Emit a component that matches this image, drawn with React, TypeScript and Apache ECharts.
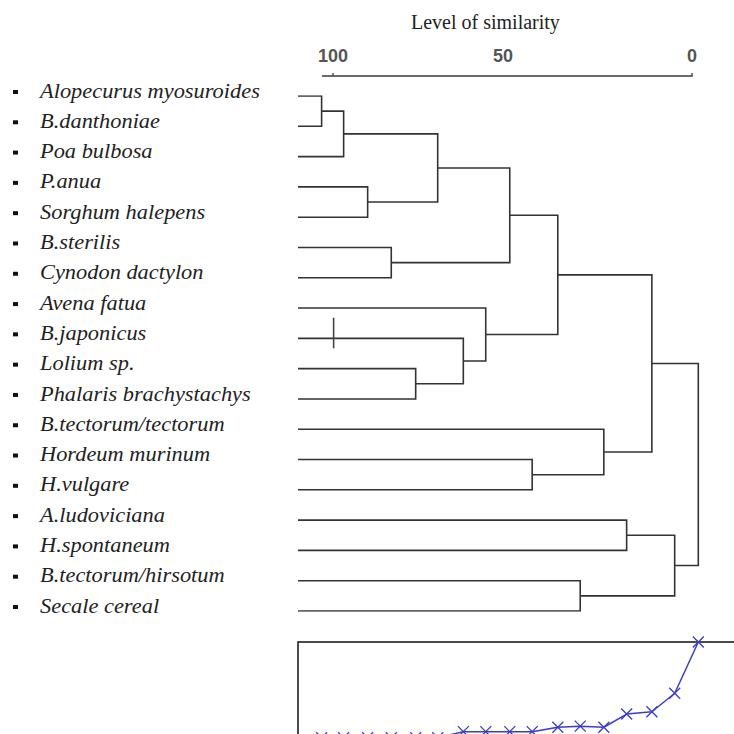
import React, { useEffect, useRef } from "react";
import * as echarts from "echarts";

// Leaves (top to bottom)
const SPECIES = [
  "Alopecurus myosuroides",
  "B.danthoniae",
  "Poa bulbosa",
  "P.anua",
  "Sorghum halepens",
  "B.sterilis",
  "Cynodon dactylon",
  "Avena fatua",
  "B.japonicus",
  "Lolium sp.",
  "Phalaris brachystachys",
  "B.tectorum/tectorum",
  "Hordeum murinum",
  "H.vulgare",
  "A.ludoviciana",
  "H.spontaneum",
  "B.tectorum/hirsotum",
  "Secale cereal",
];

// Agglomeration steps: node ids 0..17 are leaves, step k creates node 18+k
const MERGE_A = [0, 18, 3, 5, 9, 19, 8, 7, 23, 12, 26, 16, 11, 14, 28, 31, 32];
const MERGE_B = [1, 2, 4, 6, 10, 20, 22, 24, 21, 13, 25, 17, 27, 15, 30, 29, 33];
// Linkage level of each step (0 = leaves, 100 = root)
const MERGE_LEVEL = [5.9, 11.4, 17.4, 23.3, 29.4, 34.9, 41.3, 46.9, 52.9, 58.5, 64.9, 70.5, 76.4, 82.1, 88.4, 94.1, 100];
// Fusion coefficient plotted below the tree, one per step
const FUSION_VALUE = [13, 13, 13, 13, 13, 13, 18.5, 18.5, 18.5, 18.5, 22.5, 23.5, 22.5, 34.5, 36.6, 53.4, 100];
// Similarity axis labels and ticks
const SIM_LABELS = [0, 50, 100];
const SIM_TICKS = [0, 100];
// Small vertical mark crossing the B.japonicus branch
const MARK_LEAF = 8;
const MARK_LEVEL = 8.9;
const MARK_SPAN = [-0.68, 0.33];

function buildTree() {
  const nodeX: number[] = SPECIES.map(() => 0);
  const nodeY: number[] = SPECIES.map((_, i) => i);
  const segs: any[] = [];
  MERGE_A.forEach((a, k) => {
    const b = MERGE_B[k];
    const h = MERGE_LEVEL[k];
    segs.push({
      coords: [
        [nodeX[a], nodeY[a]],
        [h, nodeY[a]],
        [h, nodeY[b]],
        [nodeX[b], nodeY[b]],
      ],
    });
    nodeX.push(h);
    nodeY.push((nodeY[a] + nodeY[b]) / 2);
  });
  return segs;
}

export default function App() {
  const ref = useRef<HTMLDivElement>(null);
  useEffect(() => {
    if (!ref.current) return;
    const chart = echarts.init(ref.current, null, { renderer: "svg" });
    const segs = buildTree();
    const option: any = {
      animation: false,
      backgroundColor: "#ffffff",
      title: {
        text: "Level of similarity",
        left: 411,
        top: 12,
        padding: 0,
        textStyle: {
          fontFamily: "Liberation Serif",
          fontSize: 20,
          fontWeight: "normal",
          color: "#222",
        },
      },
      grid: [
        { left: 322.7, top: 76, width: 369.3, height: 10, show: false, outerBoundsMode: "none", containLabel: false },
        { left: 298, top: 96, width: 400.3, height: 515, show: false, outerBoundsMode: "none", containLabel: false },
        {
          left: 298,
          top: 642,
          width: 480.4,
          height: 110,
          show: true,
          borderColor: "#111",
          borderWidth: 1.5,
          backgroundColor: "transparent",
          outerBoundsMode: "none",
          containLabel: false,
        },
      ],
      xAxis: [
        {
          gridIndex: 0,
          type: "value",
          position: "top",
          inverse: true,
          min: 0,
          max: 102.87,
          interval: 50,
          splitLine: { show: false },
          axisLine: { show: true, onZero: false, lineStyle: { color: "#6a6a6a", width: 2 } },
          axisTick: {
            show: true,
            length: 3,
            customValues: SIM_TICKS,
            lineStyle: { color: "#555", width: 1.5 },
          },
          axisLabel: {
            show: true,
            customValues: SIM_LABELS,
            margin: 11,
            fontFamily: "Liberation Sans",
            fontSize: 18,
            fontWeight: "bold",
            color: "#555",
            formatter: (v: number) => (v === 50 ? "{s|50}" : String(v)),
            rich: {
              s: {
                fontFamily: "Liberation Sans",
                fontSize: 18,
                fontWeight: "bold",
                color: "#555",
                padding: [0, 19, 0, 0],
              },
            },
          },
        },
        { gridIndex: 1, type: "value", min: 0, max: 100, show: false },
        { gridIndex: 2, type: "value", min: 0, max: 120, show: false },
      ],
      yAxis: [
        { gridIndex: 0, type: "value", min: 0, max: 1, show: false },
        { gridIndex: 1, type: "value", min: 0, max: SPECIES.length - 1, inverse: true, show: false },
        { gridIndex: 2, type: "value", min: 0, max: 100, show: false },
      ],
      series: [
        {
          type: "lines",
          coordinateSystem: "cartesian2d",
          xAxisIndex: 1,
          yAxisIndex: 1,
          polyline: true,
          silent: true,
          data: segs,
          lineStyle: { color: "#333", width: 1.6, opacity: 1 },
        },
        {
          type: "lines",
          coordinateSystem: "cartesian2d",
          xAxisIndex: 1,
          yAxisIndex: 1,
          polyline: true,
          silent: true,
          data: [
            {
              coords: [
                [MARK_LEVEL, MARK_LEAF + MARK_SPAN[0]],
                [MARK_LEVEL, MARK_LEAF + MARK_SPAN[1]],
              ],
            },
          ],
          lineStyle: { color: "#444", width: 1.6, opacity: 1 },
        },
        {
          type: "custom",
          xAxisIndex: 1,
          yAxisIndex: 1,
          silent: true,
          data: SPECIES.map((_, i) => [0, i]),
          renderItem: (params: any, api: any) => {
            const p = api.coord([api.value(0), api.value(1)]);
            const y = p[1];
            return {
              type: "group",
              children: [
                {
                  type: "rect",
                  shape: { x: 13, y: y - 6, width: 5, height: 4 },
                  style: { fill: "#111" },
                },
                {
                  type: "text",
                  x: 40,
                  y: y - 5,
                  scaleX: 1.12,
                  style: {
                    text: SPECIES[params.dataIndex],
                    font: 'italic 20px "Liberation Serif", serif',
                    fill: "#222",
                    align: "left",
                    verticalAlign: "middle",
                  },
                },
              ],
            };
          },
        },
        {
          type: "line",
          xAxisIndex: 2,
          yAxisIndex: 2,
          clip: false,
          data: MERGE_LEVEL.map((x, i) => [x, FUSION_VALUE[i]]),
          symbol: "path://M0,0L10,10M10,0L0,10",
          symbolSize: 11,
          showSymbol: true,
          lineStyle: { color: "#3c3cc8", width: 1.5 },
          itemStyle: { color: "rgba(0,0,0,0)", borderColor: "#3c3cc8", borderWidth: 1.3 },
        },
      ],
    };
    chart.setOption(option);
    return () => chart.dispose();
  }, []);
  return (
    <div
      ref={ref}
      style={{ position: "fixed", left: 0, top: 0, width: 734, height: 734, background: "#fff" }}
    />
  );
}
